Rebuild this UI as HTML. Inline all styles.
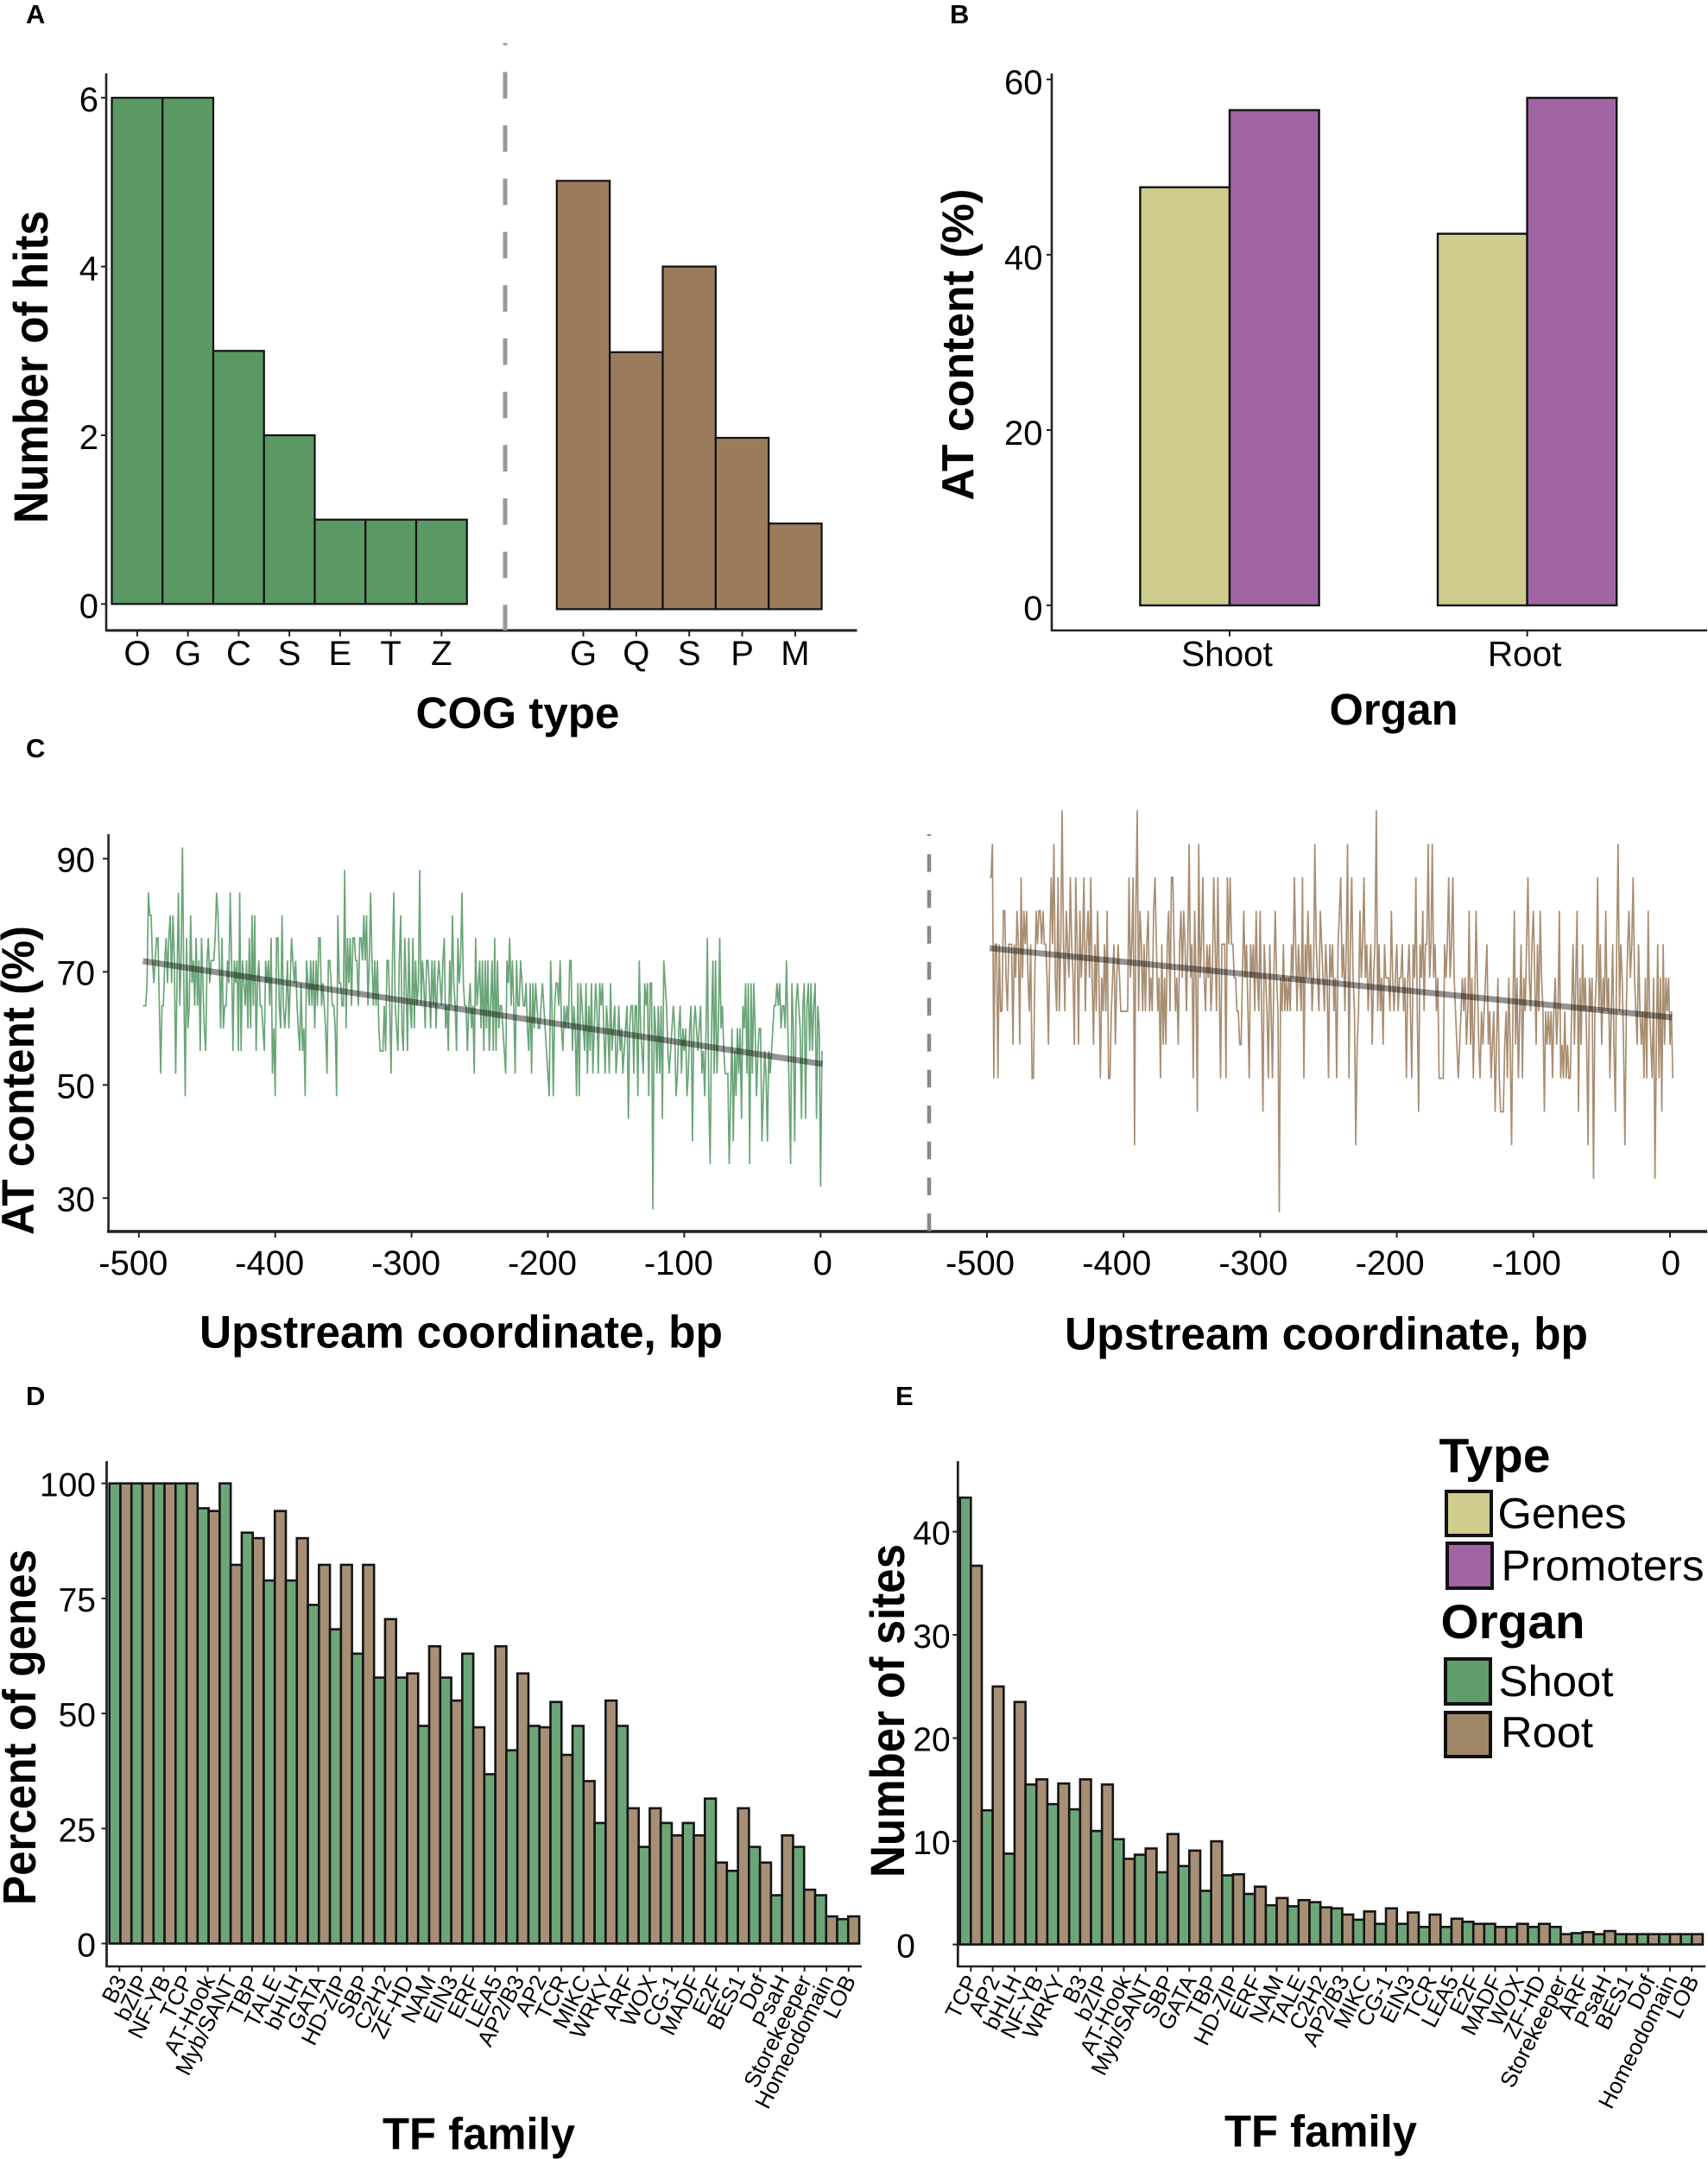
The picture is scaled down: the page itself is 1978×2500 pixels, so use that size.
<!DOCTYPE html>
<html lang="en">
<head>
<meta charset="utf-8">
<title>AT content and TF family figure</title>
<style>
html,body{margin:0;padding:0;background:#fff;}
svg{display:block;font-family:"Liberation Sans",sans-serif;fill:#000;}
.title{font-weight:bold;}
.letter{font-weight:bold;font-size:31px;}
.leg{font-size:50px;}
.legt{font-weight:bold;}
</style>
</head>
<body>
<svg id="fig" xmlns="http://www.w3.org/2000/svg" width="1978" height="2500" viewBox="0 0 1978 2500">
<rect width="1978" height="2500" fill="#fff"/>
<g id="marks"></g>

<text class="letter" x="30" y="27">A</text>
<text class="letter" x="1100" y="27">B</text>
<text class="letter" x="30" y="877">C</text>
<text class="letter" x="30" y="1627">D</text>
<text class="letter" x="1037" y="1627">E</text>

<text class="title" font-size="56" text-anchor="middle" textLength="362" lengthAdjust="spacingAndGlyphs" transform="translate(55,425) rotate(-90)">Number of hits</text>
<text class="title" font-size="51" text-anchor="middle" textLength="236" lengthAdjust="spacingAndGlyphs" x="599.5" y="843">COG type</text>
<text class="title" font-size="52" text-anchor="middle" textLength="361" lengthAdjust="spacingAndGlyphs" transform="translate(1127,399) rotate(-90)">AT content (%)</text>
<text class="title" font-size="51" text-anchor="middle" textLength="149" lengthAdjust="spacingAndGlyphs" x="1614" y="839">Organ</text>
<text class="title" font-size="53" text-anchor="middle" textLength="358" lengthAdjust="spacingAndGlyphs" transform="translate(39,1251) rotate(-90)">AT content (%)</text>
<text class="title" font-size="53" text-anchor="middle" textLength="606" lengthAdjust="spacingAndGlyphs" x="534" y="1560.5">Upstream coordinate, bp</text>
<text class="title" font-size="53" text-anchor="middle" textLength="606" lengthAdjust="spacingAndGlyphs" x="1536" y="1562.5">Upstream coordinate, bp</text>
<text class="title" font-size="54" text-anchor="middle" textLength="412" lengthAdjust="spacingAndGlyphs" transform="translate(41,2000) rotate(-90)">Percent of genes</text>
<text class="title" font-size="52" text-anchor="middle" textLength="223" lengthAdjust="spacingAndGlyphs" x="554.5" y="2488.5">TF family</text>
<text class="title" font-size="56" text-anchor="middle" textLength="386" lengthAdjust="spacingAndGlyphs" transform="translate(1047,1981) rotate(-90)">Number of sites</text>
<text class="title" font-size="52" text-anchor="middle" textLength="223" lengthAdjust="spacingAndGlyphs" x="1529.5" y="2485.5">TF family</text>

<g>
<text class="legt" font-size="56" textLength="129" lengthAdjust="spacingAndGlyphs" x="1666.5" y="1704.5">Type</text>
<rect x="1675" y="1727" width="52" height="51" fill="#d0cc8e" stroke="#111" stroke-width="4"/>
<text class="leg" textLength="149" lengthAdjust="spacingAndGlyphs" x="1734.5" y="1769.5">Genes</text>
<rect x="1676" y="1787" width="52" height="52" fill="#a064a5" stroke="#111" stroke-width="4"/>
<text class="leg" textLength="235" lengthAdjust="spacingAndGlyphs" x="1738.5" y="1830">Promoters</text>
<text class="legt" font-size="56" textLength="167" lengthAdjust="spacingAndGlyphs" x="1668.5" y="1897">Organ</text>
<rect x="1674" y="1921" width="52" height="52" fill="#5f9e6b" stroke="#111" stroke-width="4"/>
<text class="leg" textLength="133" lengthAdjust="spacingAndGlyphs" x="1735.5" y="1964">Shoot</text>
<rect x="1674" y="1983" width="52" height="51" fill="#a0876a" stroke="#111" stroke-width="4"/>
<text class="leg" textLength="107" lengthAdjust="spacingAndGlyphs" x="1738" y="2023">Root</text>
</g>
</svg>

<script>
// Panel A
const cogShootCats = ['O','G','C','S','E','T','Z'];
const cogShootVals = [6,6,3,2,1,1,1];
const cogRootCats = ['G','Q','S','P','M'];
const cogRootVals = [5,3,4,2,1];
const cogTicks = [0,2,4,6];

// Panel B
const organCats = ['Shoot','Root'];
const genesVals = [47.7,42.4];
const promoterVals = [56.5,57.9];
const atBarTicks = [0,20,40,60];

// Panel C
const bpTicks = [-500,-400,-300,-200,-100,0];
const atLineTicks = [30,50,70,90];
const shootTrend = [71.9,53.7];
const rootTrend = [73.3,60.9];
const atShootVals = [
64,64,64,68,84,80,80,72,68,72,76,76,64,52,64,64,72,76,68,76,
80,68,80,72,52,68,84,64,72,92,68,48,76,60,64,80,68,72,64,76,
64,72,56,76,68,60,56,72,76,68,72,72,72,76,84,80,72,60,76,60,
64,64,72,68,84,72,56,72,68,72,56,84,56,72,68,64,72,60,76,60,
80,64,80,56,68,72,64,64,60,56,72,68,72,64,76,52,60,48,76,76,
64,60,80,64,60,64,72,60,68,76,72,68,72,64,60,56,68,56,60,48,
72,68,64,72,64,72,60,72,64,76,76,64,68,64,60,52,72,72,68,64,
64,60,48,80,68,68,64,64,88,60,76,68,76,64,76,76,72,72,64,76,
76,72,80,72,80,64,72,84,72,64,72,64,72,60,56,56,56,64,56,72,
72,64,52,72,84,64,60,56,72,80,60,56,76,68,56,76,64,60,76,60,
72,64,68,88,64,72,68,60,72,72,68,60,72,64,72,60,68,72,68,64,
72,76,60,64,56,72,64,80,68,64,56,76,68,72,84,68,64,64,56,64,
68,60,64,52,76,64,68,72,60,72,56,72,60,72,56,64,72,56,76,56,
72,60,64,64,60,56,52,72,68,76,64,72,64,52,72,64,64,72,68,64,
64,68,60,56,68,52,68,60,68,64,60,60,64,68,64,60,56,52,48,72,
64,48,64,68,68,64,72,60,56,64,60,64,60,72,72,56,64,60,48,68,
48,68,64,60,56,68,52,64,56,68,52,60,68,64,52,68,64,68,60,52,
64,60,52,68,56,60,64,52,56,64,56,60,52,56,60,64,44,60,64,64,
52,64,64,48,72,60,56,52,68,64,68,48,68,68,28,64,60,52,64,52,
64,44,72,68,64,56,52,56,60,64,60,48,52,60,64,52,60,56,60,48,
52,60,64,40,60,64,60,56,60,64,52,56,48,60,76,48,36,60,72,52,
72,52,60,76,60,64,56,52,52,52,36,48,60,40,56,48,60,52,60,44,
64,60,68,52,68,36,68,52,68,60,48,56,60,60,40,48,56,52,40,56,
52,56,60,64,64,68,64,68,60,64,64,60,72,60,48,36,68,60,40,64,
68,64,60,44,64,68,44,64,68,56,68,56,64,68,44,64,60,32,56
];
const atRootVals = [
86,86,92,50,74,74,50,74,62,62,80,80,68,62,74,74,74,56,74,68,
80,74,56,86,68,80,74,80,68,62,74,50,50,68,80,74,80,80,74,80,
74,74,68,56,74,86,74,92,68,62,86,62,74,98,74,62,80,74,68,86,
74,68,56,86,74,56,80,68,74,86,62,74,80,68,86,68,56,74,62,80,
68,50,68,62,74,62,80,50,50,62,68,74,56,68,74,68,62,62,62,62,
62,62,86,68,74,86,38,80,98,62,80,74,62,74,62,74,80,62,68,62,
80,86,74,62,68,50,74,56,68,56,74,80,62,86,86,74,62,68,56,74,
80,68,80,74,62,74,92,68,74,50,80,68,44,92,68,74,86,68,62,74,
68,74,62,68,86,74,62,86,68,50,74,74,74,50,86,74,86,74,74,68,
68,62,62,56,56,68,80,68,74,62,50,74,68,74,62,80,68,62,80,62,
44,74,68,62,50,74,62,50,68,80,68,62,26,68,62,74,62,68,62,68,
62,74,68,86,74,62,74,68,62,86,50,74,68,80,68,74,62,68,92,74,
68,62,80,74,68,62,74,68,50,74,68,74,62,68,50,74,80,86,68,74,
62,74,92,50,74,86,68,62,38,56,62,80,68,74,86,68,74,62,68,74,
56,68,74,98,62,74,62,68,56,74,68,68,68,62,80,68,62,68,74,62,
68,68,74,62,68,50,68,74,62,50,74,68,86,62,44,74,68,80,62,74,
74,92,68,74,92,68,74,62,68,50,50,50,50,74,68,74,86,68,74,86,
68,62,56,50,56,62,68,62,68,56,62,80,56,68,50,62,80,68,56,50,
62,56,62,68,74,56,62,50,56,62,44,56,68,50,44,44,44,56,62,50,
68,56,38,62,80,56,68,50,62,74,50,68,62,74,86,68,62,74,80,68,
56,74,62,80,68,62,44,62,56,62,56,62,50,62,68,56,62,80,50,56,
50,62,50,56,50,50,62,74,56,68,80,44,68,56,74,62,68,56,38,68,
62,68,32,62,68,86,62,74,56,68,62,80,62,68,50,62,74,56,44,74,
92,62,74,68,56,38,62,74,80,68,74,86,68,62,56,74,62,56,62,50,
68,50,80,62,56,50,68,32,56,74,50,68,44,74,56,68,62,68,56,62,50
];

// Panel D
const pctCats = ['B3','bZIP','NF-YB','TCP','AT-Hook','Myb/SANT','TBP','TALE','bHLH','GATA','HD-ZIP','SBP','C2H2','ZF-HD','NAM','EIN3','ERF','LEA5','AP2/B3','AP2','TCR','MIKC','WRKY','ARF','WOX','CG-1','MADF','E2F','BES1','Dof','PsaH','Storekeeper','Homeodomain','LOB'];
const pctShoot = [100,100,100,100,94.6,100,89.3,78.9,78.9,73.6,68.3,63,57.8,57.8,47.3,57.8,63,36.8,42,47.3,52.5,47.3,26.2,47.3,21,26.2,26.2,31.5,15.8,21,10.5,21,10.5,5.3];
const pctRoot = [100,100,100,100,94,82.3,88.1,94,88.1,82.3,82.3,82.3,70.5,58.7,64.6,52.8,47,64.6,58.7,47,41,35.3,52.8,29.4,29.4,23.5,23.5,17.6,29.4,17.6,23.5,11.7,5.9,5.9];
const pctTicks = [0,25,50,75,100];

// Panel E
const siteCats = ['TCP','AP2','bHLH','NF-YB','WRKY','B3','bZIP','AT-Hook','Myb/SANT','SBP','GATA','TBP','HD-ZIP','ERF','NAM','TALE','C2H2','AP2/B3','MIKC','CG-1','EIN3','TCR','LEA5','E2F','MADF','WOX','ZF-HD','Storekeeper','ARF','PsaH','BES1','Dof','Homeodomain','LOB'];
const sitesShoot = [43.3,13,8.8,15.5,13.6,13.1,11,10.2,8.7,7,7.6,5.2,6.7,4.9,3.8,3.7,4.1,3.5,2.4,2,2,1.7,1.7,2.2,2,1.7,1.7,1.7,1.1,1,1,1,1,1];
const sitesRoot = [36.7,25,23.5,16,15.6,16,15.5,8.3,9.3,10.7,9.1,10,6.8,5.6,4.5,4.3,3.6,2.9,3.2,3.5,3.1,2.9,2.5,2,1.7,2,2,1,1.2,1.3,1,1,1,1];
const siteTicks = [0,10,20,30,40];

const NS = 'http://www.w3.org/2000/svg';
const root = document.getElementById('marks');

function line(name, x1, y1, x2, y2, stroke, w) {
  const el = document.createElementNS(NS, 'line');
  
  
  el.setAttribute('x1', x1);
  el.setAttribute('y1', y1);
  el.setAttribute('x2', x2);
  el.setAttribute('y2', y2);
  el.setAttribute('stroke', stroke);
  el.setAttribute('stroke-width', w);
  root.appendChild(el);
  return el;
}
function bar(name, x, y, w, h, fill, sw, stroke) {
  const el = document.createElementNS(NS, 'rect');
  
  
  el.setAttribute('x', x);
  el.setAttribute('y', y);
  el.setAttribute('width', w);
  el.setAttribute('height', h);
  el.setAttribute('fill', fill);
  el.setAttribute('stroke', stroke);
  el.setAttribute('stroke-width', sw);
  root.appendChild(el);
}
function label(name, x, y, str, anchor, size, rot) {
  const el = document.createElementNS(NS, 'text');
  
  
  el.setAttribute('text-anchor', anchor);
  el.setAttribute('font-size', size);
  if (rot) {
    el.setAttribute('transform', 'translate(' + x + ',' + y + ') rotate(' + rot + ')');
  } else {
    el.setAttribute('x', x);
    el.setAttribute('y', y);
  }
  el.textContent = str;
  root.appendChild(el);
}
function series(name, xs, ys, stroke, w) {
  const el = document.createElementNS(NS, 'polyline');
  
  
  el.setAttribute('points', xs.map(function (x, i) { return x.toFixed(1) + ',' + ys[i].toFixed(1); }).join(' '));
  el.setAttribute('fill', 'none');
  el.setAttribute('stroke', stroke);
  el.setAttribute('stroke-width', w);
  el.setAttribute('stroke-linejoin', 'miter');
  el.setAttribute('stroke-miterlimit', '3');
  root.appendChild(el);
}

/* ---------- Panel A ---------- */
const yA = function (v) { return 699.4 - 97.7 * v; };
const yARoot = function (v) { return 705.4 - 99.2 * v; };
const xAShoot = function (i) { return 129.5 + 58.75 * i; };
const xARoot = function (i) { return 644.8 + 61.35 * i; };
cogShootVals.forEach(function (v, i) {
  bar('cog-shoot-bar', xAShoot(i), yA(v), 58.75, yA(0) - yA(v), '#5a9864', 2.2, '#111');
  const c = xAShoot(i) + 29.4;
  line('cog-x-tick', c, 730, c, 737, '#222', 2);
  label('cog-x-tick-label', c, 770, cogShootCats[i], 'middle', 40);
});
cogRootVals.forEach(function (v, i) {
  bar('cog-root-bar', xARoot(i), yARoot(v), 61.35, yARoot(0) - yARoot(v), '#9a7c5c', 2.2, '#111');
  const c = xARoot(i) + 30.7;
  line('cog-x-tick', c, 730, c, 737, '#222', 2);
  label('cog-x-tick-label', c, 770, cogRootCats[i], 'middle', 40);
});
cogTicks.forEach(function (v) {
  line('cog-y-tick', 117, yA(v), 123, yA(v), '#222', 2);
  label('cog-y-tick-label', 114, yA(v) + 16, String(v), 'end', 40);
});
line('a-y-axis', 123, 85, 123, 731, '#222', 2.6);
line('a-x-axis', 122, 730, 992.5, 730, '#222', 3);
const dashA = line('a-divider', 585, 50, 585, 730, '#999', 5);
dashA.setAttribute('stroke-dasharray', '30.7 31');
dashA.setAttribute('stroke-dashoffset', '28.3');

/* ---------- Panel B ---------- */
const yB = function (v) { return 701 - 10.15 * v; };
const xB = function (i) { return 1424 + 344.6 * i; };
organCats.forEach(function (c, i) {
  bar('genes-bar', xB(i) - 103.6, yB(genesVals[i]), 103.6, yB(0) - yB(genesVals[i]), '#d0cc8e', 2.4, '#111');
  bar('promoters-bar', xB(i), yB(promoterVals[i]), 103.6, yB(0) - yB(promoterVals[i]), '#a064a5', 2.4, '#111');
  line('organ-x-tick', xB(i), 730, xB(i), 737, '#222', 2);
  label('organ-x-tick-label', xB(i) - 3, 771, c, 'middle', 40.5);
});
atBarTicks.forEach(function (v) {
  line('organ-y-tick', 1212, yB(v), 1218, yB(v), '#222', 2);
  label('organ-y-tick-label', 1207.5, yB(v) + 17, String(v), 'end', 40);
});
line('b-y-axis', 1218, 85, 1218, 731, '#222', 2.6);
line('b-x-axis', 1217, 730, 1977, 730, '#222', 2.6);

/* ---------- Panel C ---------- */
const yC = function (v) { return 1125.3 - (v - 70) * 6.55; };
const yCRight = function (v) { return 1171 - (v - 62) * 6.467; };
const xCL = function (bp) { return 950.3 + 1.579 * bp; };
const xCR = function (bp) { return 1934 + 1.582 * bp; };
const startBpL = -497;
const startBpR = -498;
series('at-shoot-line', atShootVals.map(function (v, i) { return xCL(startBpL + i); }), atShootVals.map(yC), '#6ba578', 1.7);
series('at-root-line', atRootVals.map(function (v, i) { return xCR(startBpR + i); }), atRootVals.map(yCRight), '#a88e72', 1.7);
const trendL = line('at-shoot-trend', xCL(startBpL), yC(shootTrend[0]), xCL(1.5), yC(shootTrend[1]), '#000', 7);
trendL.setAttribute('stroke-opacity', '0.42');
const trendR = line('at-root-trend', xCR(startBpR), yCRight(rootTrend[0]), xCR(1.5), yCRight(rootTrend[1]), '#000', 7);
trendR.setAttribute('stroke-opacity', '0.42');
atLineTicks.forEach(function (v) {
  line('at-y-tick', 119, yC(v), 125, yC(v), '#222', 2);
  label('at-y-tick-label', 110, yC(v) + 15, String(v), 'end', 40);
});
bpTicks.forEach(function (b) {
  const off = b < 0 ? -8 : 1;
  line('bp-x-tick', xCL(b), 1426, xCL(b), 1433, '#222', 2);
  label('bp-x-tick-label', xCL(b) + off + 1.5, 1476, String(b), 'middle', 40);
  line('bp-x-tick', xCR(b), 1426, xCR(b), 1433, '#222', 2);
  label('bp-x-tick-label', xCR(b) + off, 1476, String(b), 'middle', 40);
});
line('c-y-axis', 125.6, 966, 125.6, 1427, '#222', 2.6);
line('c-x-axis', 124, 1426, 1977, 1426, '#222', 3.4);
const dashC = line('c-divider', 1076, 966, 1076, 1426, '#888', 4.5);
dashC.setAttribute('stroke-dasharray', '20.5 21.1');
dashC.setAttribute('stroke-dashoffset', '18.5');

/* ---------- Panels D and E ---------- */
function tfChart(cats, shoot, rootV, ticks, yFn, x0, bw, tick0, tickStep, axisX, xEnd, labFn, tag) {
  shoot.forEach(function (v, i) {
    bar(tag + '-shoot-bar', x0 + 2 * i * bw, yFn(v), bw, yFn(0) - yFn(v), '#6ca678', 2.6, '#141414');
    bar(tag + '-root-bar', x0 + (2 * i + 1) * bw, yFn(rootV[i]), bw, yFn(0) - yFn(rootV[i]), '#a78f76', 2.6, '#141414');
    const t = tick0 + tickStep * i;
    line(tag + '-x-tick', t, 2277, t, 2283, '#222', 2);
    label(tag + '-x-tick-label', t + 9, 2293, cats[i], 'end', 26, -63);
  });
  ticks.forEach(function (v) {
    line(tag + '-y-tick', axisX - 6, yFn(v), axisX, yFn(v), '#222', 2);
    label(tag + '-y-tick-label', labFn(v), yFn(v) + 15, String(v), 'end', 39);
  });
  line(tag + '-y-axis', axisX, 1692, axisX, 2278, '#222', 2.8);
  line(tag + '-x-axis', axisX - 1, 2277, xEnd, 2277, '#222', 2.4);
}
const yD = function (v) { return 2250.5 - 5.328 * v; };
const yE = function (v) { return 2251.6 - 11.95 * v; };
tfChart(pctCats, pctShoot, pctRoot, pctTicks, yD, 126.7, 12.77, 138.3, 25.59, 123.5, 998, function () { return 111; }, 'percent');
tfChart(siteCats, sitesShoot, sitesRoot, siteTicks, yE, 1111.7, 12.65, 1124.3, 25.3, 1109.3, 1975, function (v) { return v === 0 ? 1060 : 1100.7; }, 'sites');
</script>
</body>
</html>
